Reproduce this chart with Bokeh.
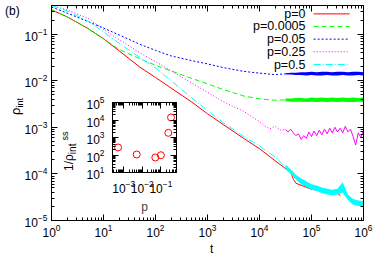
from bokeh.plotting import figure
from bokeh.models import Range1d, FixedTicker, LogAxis, Label, CustomJSTickFormatter, Div
from bokeh.layouts import column
from bokeh.embed import file_html
from bokeh.resources import INLINE

FONT = "Liberation Sans"

# ---------------- data ----------------
LABELS = ["p=0", "p=0.0005", "p=0.05", "p=0.25", "p=0.5"]
COLORS = ["#ff0000", "#00ff00", "#0000ff", "#ff00ff", "#00ffff"]
DASHES = ["solid", "5 3", "2 2", "1 2", "7 2 1 2"]

T_SMOOTH = [1, 2, 5, 10, 20, 50, 100, 200, 500, 1000, 2000, 5000, 10000, 20000, 31600]

T_RED = [1, 2, 5, 10, 20, 50, 100, 200, 500, 1000, 2000, 5000, 10000, 20000,
         40000, 45000, 50000, 100000, 200000, 320000, 360000]
RHO_RED = [0.331, 0.234, 0.132, 0.0794, 0.0437, 0.0195, 0.0117, 0.00692, 0.00347,
           0.00195, 0.00115, 0.000575, 0.000347, 0.000191, 0.000107, 7.6e-5, 6.3e-5,
           4.68e-5, 4.17e-5, 3.8e-5, 3.4e-5]

RHO_GREEN = [0.331, 0.234, 0.132, 0.0794, 0.0468, 0.0295, 0.0214, 0.0162, 0.0112,
             0.00851, 0.00646, 0.00468, 0.00407, 0.0038, 0.00389]
RHO_BLUE = [0.38, 0.282, 0.186, 0.135, 0.0955, 0.0603, 0.0447, 0.0339, 0.0269,
            0.0229, 0.0191, 0.0158, 0.0145, 0.0135, 0.014]
RHO_CYAN = [0.407, 0.316, 0.191, 0.112, 0.0631, 0.0316, 0.0186, 0.01, 0.00427,
            0.00229, 0.00126, 0.000631, 0.000398, 0.000229, 0.000141]

T_MAG = [1, 2, 5, 10, 20, 50, 100, 200, 500, 1000, 2000, 5000, 10000, 12600,
         15800, 20000, 25100, 31600]
RHO_MAG = [0.407, 0.331, 0.219, 0.126, 0.0759, 0.0398, 0.0257, 0.0162, 0.0089,
           0.00562, 0.00355, 0.00219, 0.00132, 0.00107, 0.00093, 0.00105, 0.00087, 8.91e-4]

# late, noisy part of p=0.25
T_LATE = [31600, 35500, 39800, 44700, 50100, 56200, 63100, 70800, 79400, 89100,
          100000, 112000, 126000, 141000, 158000, 178000, 200000, 224000, 251000,
          282000, 316000, 355000, 398000, 447000, 501000, 562000, 631000, 708000,
          794000, 891000, 1000000]
RHO_MAG_LATE = [8.91e-4, 7.94e-4, 9.12e-4, 7.59e-4, 6.61e-4, 7.24e-4, 5.50e-4, 6.61e-4,
                5.75e-4, 7.94e-4, 6.31e-4, 8.32e-4, 6.61e-4, 8.71e-4, 6.92e-4, 9.12e-4,
                7.24e-4, 9.55e-4, 7.59e-4, 1.00e-3, 7.94e-4, 9.55e-4, 7.59e-4, 1.05e-3,
                7.94e-4, 9.12e-4, 6.31e-4, 4.17e-4, 7.59e-4, 6.03e-4, 8.71e-4]

# late, noisy parts drawn as envelopes (lower / upper)
T_BAND = [31600, 39800, 50100, 63100, 79400, 100000, 126000, 158000, 200000,
          251000, 316000, 398000, 501000, 631000, 794000, 1000000]
BLUE_LO = [0.0135, 0.0135, 0.0132, 0.0132, 0.0129, 0.0132, 0.0129, 0.0129,
           0.0132, 0.0129, 0.0129, 0.0132, 0.0129, 0.0129, 0.0132, 0.0129]
BLUE_HI = [0.0145, 0.0148, 0.0148, 0.0151, 0.0151, 0.0155, 0.0151, 0.0155,
           0.0155, 0.0151, 0.0155, 0.0155, 0.0151, 0.0155, 0.0155, 0.0151]
GREEN_LO = [0.00363, 0.00355, 0.00355, 0.00355, 0.00347, 0.00355, 0.00347, 0.00355,
            0.00347, 0.00355, 0.00347, 0.00355, 0.00347, 0.00347, 0.00355, 0.00347]
GREEN_HI = [0.00417, 0.00417, 0.00427, 0.00427, 0.00417, 0.00437, 0.00427, 0.00437,
            0.00427, 0.00437, 0.00427, 0.00437, 0.00427, 0.00437, 0.00427, 0.00437]
CYAN_LO = [1.26e-4, 1.00e-4, 7.59e-5, 6.03e-5, 5.25e-5, 4.57e-5, 4.27e-5, 3.89e-5,
           3.63e-5, 3.47e-5, 3.63e-5, 3.98e-5, 2.75e-5, 2.19e-5, 2.04e-5, 2.00e-5]
CYAN_HI = [1.58e-4, 1.26e-4, 9.55e-5, 7.94e-5, 6.92e-5, 6.03e-5, 5.62e-5, 5.13e-5,
           4.79e-5, 4.57e-5, 4.79e-5, 6.61e-5, 3.63e-5, 2.88e-5, 2.69e-5, 2.63e-5]

# inset: 1/rho_int^ss versus p
P_INSET = [0.0005, 0.005, 0.05, 0.1, 0.25, 0.35]
INV_RHO_SS = [270, 107, 72, 97, 1850, 14000]

# ticks
X_DECADES = [1, 10, 100, 1000, 10000, 100000, 1000000]
Y_DECADES = [1e-5, 1e-4, 1e-3, 1e-2, 1e-1]
PX_DECADES = [1e-4, 1e-3, 1e-2, 1e-1]
PY_DECADES = [10, 100, 1000, 10000, 100000]
MANTISSAS = [2, 3, 4, 5, 6, 7, 8, 9]


def minors(decades):
    return [d * m for d in decades for m in MANTISSAS]


def style_axis(ax, label_standoff, show_labels=True):
    ax.major_tick_in = 6
    ax.major_tick_out = 0
    ax.minor_tick_in = 3
    ax.minor_tick_out = 0
    ax.axis_line_color = "black"
    ax.major_tick_line_color = "black"
    ax.minor_tick_line_color = "black"
    ax.major_label_text_font = FONT
    ax.major_label_text_font_size = "12px"
    ax.major_label_text_color = "black"
    ax.major_label_standoff = label_standoff
    if not show_labels:
        ax.major_label_text_font_size = "0px"
        ax.formatter = CustomJSTickFormatter(code="return ''")
        ax.major_label_standoff = 0


def text_div(html, left, top, size, rotate=False):
    st = {"position": "absolute", "left": f"{left}px", "top": f"{top}px",
          "font-family": FONT, "font-size": f"{size}px", "line-height": f"{size}px",
          "white-space": "nowrap", "color": "black"}
    if rotate:
        st["transform"] = "rotate(-90deg)"
        st["transform-origin"] = "0 0"
    return Div(text=html, styles=st)


# ---------------- main figure ----------------
main = figure(width=374, height=257, x_axis_type="log", y_axis_type="log",
              x_range=Range1d(1, 1e6), y_range=Range1d(1e-5, 0.41),
              output_backend="svg", toolbar_location=None,
              min_border_left=51, min_border_right=11, min_border_top=5,
              min_border_bottom=37)
main.xgrid.visible = False
main.ygrid.visible = False
main.outline_line_color = "black"
main.background_fill_color = "white"
main.border_fill_color = "white"

xt = FixedTicker(ticks=X_DECADES, minor_ticks=minors(X_DECADES[:-1]))
yt = FixedTicker(ticks=Y_DECADES, minor_ticks=minors(Y_DECADES))
main.xaxis.ticker = xt
main.yaxis.ticker = yt
style_axis(main.xaxis[0], 3)
style_axis(main.yaxis[0], 4)

top_ax = LogAxis(ticker=xt)
style_axis(top_ax, 0, show_labels=False)
main.add_layout(top_ax, "above")
right_ax = LogAxis(ticker=yt)
style_axis(right_ax, 0, show_labels=False)
main.add_layout(right_ax, "right")

# curves (gnuplot order)
main.line(T_RED, RHO_RED, line_color=COLORS[0], line_width=1)

main.line(T_SMOOTH, RHO_GREEN, line_color=COLORS[1], line_width=1, line_dash=DASHES[1])
main.varea(x=T_BAND, y1=GREEN_LO, y2=GREEN_HI, fill_color=COLORS[1])

main.line(T_SMOOTH, RHO_BLUE, line_color=COLORS[2], line_width=1, line_dash=DASHES[2])
main.varea(x=T_BAND, y1=BLUE_LO, y2=BLUE_HI, fill_color=COLORS[2])

main.line(T_MAG, RHO_MAG, line_color=COLORS[3], line_width=1, line_dash=DASHES[3])
main.line(T_LATE, RHO_MAG_LATE, line_color=COLORS[3], line_width=1)

main.line(T_SMOOTH, RHO_CYAN, line_color=COLORS[4], line_width=1, line_dash=DASHES[4])
main.varea(x=T_BAND, y1=CYAN_LO, y2=CYAN_HI, fill_color=COLORS[4])

# legend (label on the left, sample on the right, as in gnuplot)
LEG_Y = [0.271, 0.146, 0.0778, 0.0417, 0.0222]
LEG_TX = 76700
LEG_X0, LEG_X1 = 1.1e5, 5.4e5
for lab, col, dash, ly in zip(LABELS, COLORS, DASHES, LEG_Y):
    main.add_layout(Label(x=LEG_TX, y=ly, text=lab, text_align="right",
                          text_baseline="middle", text_font=FONT,
                          text_font_size="12.5px", text_color="black"))
    main.line([LEG_X0, LEG_X1], [ly, ly], line_color=col, line_width=1, line_dash=dash)

# ---------------- inset ----------------
inset = figure(width=126, height=122, x_axis_type="log", y_axis_type="log",
               x_range=Range1d(2.5e-4, 0.69), y_range=Range1d(10, 1e5),
               output_backend="svg", toolbar_location=None,
               min_border_left=47, min_border_right=5, min_border_top=7,
               min_border_bottom=45)
inset.xgrid.visible = False
inset.ygrid.visible = False
inset.outline_line_color = "black"
inset.background_fill_color = "white"
inset.border_fill_alpha = 0
inset.styles = {"position": "absolute", "left": "61px", "top": "95px"}

ixt = FixedTicker(ticks=PX_DECADES, minor_ticks=minors(PX_DECADES))
iyt = FixedTicker(ticks=PY_DECADES, minor_ticks=minors(PY_DECADES[:-1]))
inset.xaxis.ticker = ixt
inset.yaxis.ticker = iyt
style_axis(inset.xaxis[0], 7)
style_axis(inset.yaxis[0], 8)
inset.xaxis.axis_label = "p"
inset.xaxis.axis_label_text_font = FONT
inset.xaxis.axis_label_text_font_size = "12px"
inset.xaxis.axis_label_text_font_style = "normal"
inset.xaxis.axis_label_standoff = 4
itop = LogAxis(ticker=ixt)
style_axis(itop, 0, show_labels=False)
inset.add_layout(itop, "above")
iright = LogAxis(ticker=iyt)
style_axis(iright, 0, show_labels=False)
inset.add_layout(iright, "right")

inset.scatter(P_INSET, INV_RHO_SS, marker="circle", size=7, fill_color=None,
              line_color="#ff0000", line_width=1)

# ---------------- texts placed on the page ----------------
SUB = "font-size:{}px;position:relative;top:{}px"
tag_b = text_div("(b)", 0, 0, 12)
lab_t = text_div("t", 205, 238, 12)
lab_rho = text_div("ρ<span style='" + SUB.format(9, 3) + "'>int</span>", 4, 110, 13, rotate=True)
lab_inv = text_div("1/ρ<span style='" + SUB.format(10, 3) + "'>int</span>"
                   "<span style='" + SUB.format(9, -5) + ";margin-left:3px'>ss</span>",
                   58, 166, 12, rotate=True)

layout = column(main, inset, tag_b, lab_t, lab_rho, lab_inv,
                styles={"position": "absolute", "left": "0px", "top": "0px"})

open("out.html", "w").write(file_html(layout, INLINE))
